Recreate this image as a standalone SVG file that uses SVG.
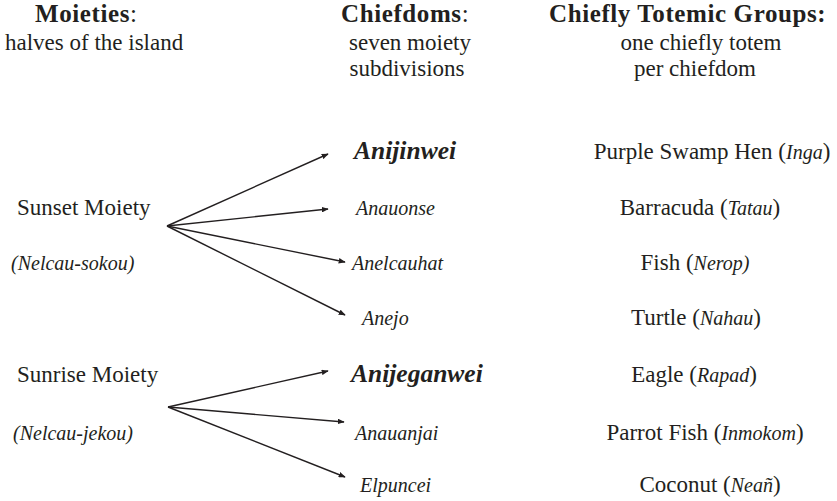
<svg xmlns="http://www.w3.org/2000/svg" width="837" height="501" viewBox="0 0 837 501">
<style>
.c{stroke:#231f20;stroke-width:1.4;fill:none;}
</style>
<defs>
<marker id="ah" viewBox="0 0 10 8" refX="9" refY="4" markerWidth="7" markerHeight="5.6" markerUnits="userSpaceOnUse" orient="auto">
<path d="M0,0 L10,4 L0,8 Z" fill="#231f20"/>
</marker>
</defs>
<g id="headers" fill="#231f20">
<text x="35" y="22" font-family="Liberation Serif" font-size="25" font-weight="bold" letter-spacing="0.6">Moieties<tspan font-weight="normal">:</tspan></text>
<text x="5" y="50" font-family="Liberation Serif" font-size="23">halves of  the island</text>
<text x="341" y="22" font-family="Liberation Serif" font-size="25" font-weight="bold" letter-spacing="0.6">Chiefdoms<tspan font-weight="normal">:</tspan></text>
<text x="410" y="50" font-family="Liberation Serif" font-size="23" text-anchor="middle">seven moiety</text>
<text x="407" y="76" font-family="Liberation Serif" font-size="23" text-anchor="middle">subdivisions</text>
<text x="549" y="22" font-family="Liberation Serif" font-size="25" font-weight="bold" letter-spacing="0.6">Chiefly Totemic Groups:</text>
<text x="701" y="50" font-family="Liberation Serif" font-size="23" text-anchor="middle">one chiefly totem</text>
<text x="695" y="76" font-family="Liberation Serif" font-size="23" text-anchor="middle">per chiefdom</text>
</g>
<g id="sunset" fill="#231f20">
<text x="17" y="215" font-family="Liberation Serif" font-size="23">Sunset Moiety</text>
<text x="11" y="270" font-family="Liberation Serif" font-size="20" font-style="italic">(Nelcau-sokou)</text>
</g>
<g id="sunrise" fill="#231f20">
<text x="17" y="382" font-family="Liberation Serif" font-size="23">Sunrise Moiety</text>
<text x="13" y="440" font-family="Liberation Serif" font-size="20" font-style="italic">(Nelcau-jekou)</text>
</g>
<g id="connectors">
<line class="c" marker-end="url(#ah)" x1="167" y1="226" x2="328" y2="154"/>
<line class="c" marker-end="url(#ah)" x1="167" y1="226" x2="328" y2="209"/>
<line class="c" marker-end="url(#ah)" x1="167" y1="226" x2="345" y2="262"/>
<line class="c" marker-end="url(#ah)" x1="167" y1="226" x2="345" y2="315"/>
<line class="c" marker-end="url(#ah)" x1="168" y1="407" x2="328" y2="371"/>
<line class="c" marker-end="url(#ah)" x1="168" y1="407" x2="344" y2="422"/>
<line class="c" marker-end="url(#ah)" x1="168" y1="407" x2="345" y2="477"/>
</g>
<g id="anijinwei" fill="#231f20"><text x="354" y="159" font-family="Liberation Serif" font-size="25.5" font-style="italic" font-weight="bold">Anijinwei</text></g>
<g id="anauonse" fill="#231f20"><text x="356" y="215" font-family="Liberation Serif" font-size="20" font-style="italic">Anauonse</text></g>
<g id="anelcauhat" fill="#231f20"><text x="352" y="270" font-family="Liberation Serif" font-size="20" font-style="italic">Anelcauhat</text></g>
<g id="anejo" fill="#231f20"><text x="362" y="325" font-family="Liberation Serif" font-size="20" font-style="italic">Anejo</text></g>
<g id="anijeganwei" fill="#231f20"><text x="351" y="382" font-family="Liberation Serif" font-size="25.5" font-style="italic" font-weight="bold">Anijeganwei</text></g>
<g id="anauanjai" fill="#231f20"><text x="355" y="440" font-family="Liberation Serif" font-size="20" font-style="italic">Anauanjai</text></g>
<g id="elpuncei" fill="#231f20"><text x="360" y="492" font-family="Liberation Serif" font-size="20" font-style="italic">Elpuncei</text></g>
<g id="totem-inga" fill="#231f20"><text x="712" y="159" font-family="Liberation Serif" font-size="23" text-anchor="middle">Purple Swamp Hen (<tspan font-style="italic" font-size="20">Inga</tspan>)</text></g>
<g id="totem-tatau" fill="#231f20"><text x="700" y="215" font-family="Liberation Serif" font-size="23" text-anchor="middle">Barracuda (<tspan font-style="italic" font-size="20">Tatau</tspan>)</text></g>
<g id="totem-nerop" fill="#231f20"><text x="695" y="270" font-family="Liberation Serif" font-size="23" text-anchor="middle">Fish (<tspan font-style="italic" font-size="20">Nerop)</tspan></text></g>
<g id="totem-nahau" fill="#231f20"><text x="696" y="325" font-family="Liberation Serif" font-size="23" text-anchor="middle">Turtle (<tspan font-style="italic" font-size="20">Nahau</tspan>)</text></g>
<g id="totem-rapad" fill="#231f20"><text x="694" y="382" font-family="Liberation Serif" font-size="23" text-anchor="middle">Eagle (<tspan font-style="italic" font-size="20">Rapad</tspan>)</text></g>
<g id="totem-inmokom" fill="#231f20"><text x="705" y="440" font-family="Liberation Serif" font-size="23" text-anchor="middle">Parrot Fish (<tspan font-style="italic" font-size="20">Inmokom</tspan>)</text></g>
<g id="totem-nean" fill="#231f20"><text x="710" y="492" font-family="Liberation Serif" font-size="23" text-anchor="middle">Coconut (<tspan font-style="italic" font-size="20">Neañ</tspan>)</text></g>
</svg>
